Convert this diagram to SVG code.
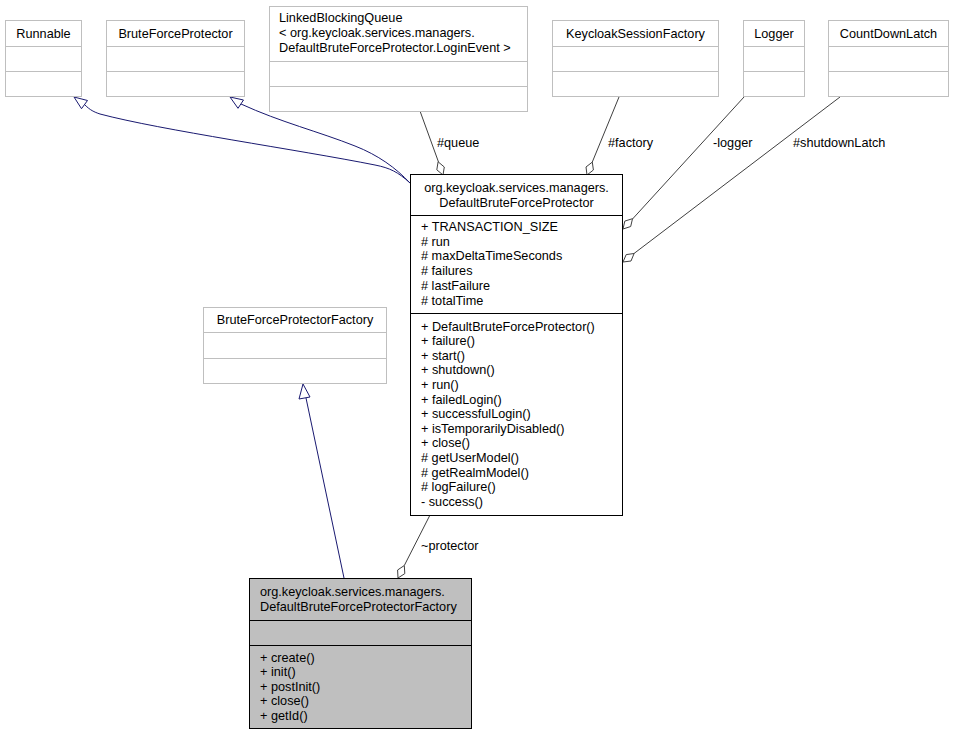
<svg xmlns="http://www.w3.org/2000/svg" width="954" height="735" viewBox="0 0 954 735">
<style>
text{font-family:"Liberation Sans",Arial,sans-serif;font-size:12.7px;fill:#000}
.c{text-anchor:middle}
.ext rect,.ext line{stroke:#bfbfbf;stroke-width:1;fill:#fff}
.main rect,.main line{stroke:#000;stroke-width:1;fill:#fff}
.cur rect,.cur line{stroke:#000;stroke-width:1;fill:#bfbfbf}
.inh{stroke:#191970;fill:none;stroke-width:1}
.inhh{stroke:#191970;fill:#fff;stroke-width:1}
.asc{stroke:#404040;fill:none;stroke-width:1}
.ascd{stroke:#404040;fill:#fff;stroke-width:1}
</style>
<rect width="954" height="735" fill="#fff"/>
<g id="connectors">
<path class="inh" d="M410,183 C398,172 390,168 375,165 C300,150 160,130 100,114 C94,112 90,110 85,105"/>
<polygon class="inhh" points="74,97 87.5,100.5 81.5,108.7"/>
<path class="inh" d="M410,183 C396,168 378,155 355,146 C320,132 280,122 241,104"/>
<polygon class="inhh" points="230,97 243.5,100 238,108.3"/>
<path class="inh" d="M344,578 L306,398"/>
<polygon class="inhh" points="303,384 310,397 299,399"/>
<path class="asc" d="M420,111 L438.5,162"/>
<polygon class="ascd" points="443,175 436.8,169.8 438.1,161.8 444.3,167"/>
<path class="asc" d="M619,97 L592.3,162"/>
<polygon class="ascd" points="587,175 586,167 592.3,162.1 593.4,170"/>
<path class="asc" d="M744,97 L632.5,219"/>
<polygon class="ascd" points="623,229 624.8,221.1 632.5,218.7 630.7,226.5"/>
<path class="asc" d="M840,97 L634,253.5"/>
<polygon class="ascd" points="623,262 626.2,254.6 634.1,253.5 631,261"/>
<path class="asc" d="M430,515 L404.3,565.5"/>
<polygon class="ascd" points="398,578 397.6,570 404.3,565.5 404.8,573.6"/>
<text x="437" y="147">#queue</text>
<text x="608" y="147">#factory</text>
<text x="713" y="147">-logger</text>
<text x="793" y="147">#shutdownLatch</text>
<text x="421" y="550">~protector</text>
</g>
<g id="Runnable" class="ext">
<rect x="5.5" y="20.5" width="76" height="76"/>
<line x1="5.5" y1="46.5" x2="81.5" y2="46.5"/>
<line x1="5.5" y1="71.5" x2="81.5" y2="71.5"/>
<text class="c" x="43.5" y="37.5">Runnable</text>
</g>
<g id="BruteForceProtector" class="ext">
<rect x="106.5" y="20.5" width="138" height="76"/>
<line x1="106.5" y1="46.5" x2="244.5" y2="46.5"/>
<line x1="106.5" y1="71.5" x2="244.5" y2="71.5"/>
<text class="c" x="175.5" y="37.5">BruteForceProtector</text>
</g>
<g id="LinkedBlockingQueue" class="ext">
<rect x="269.5" y="6.5" width="258" height="105"/>
<line x1="269.5" y1="61.5" x2="527.5" y2="61.5"/>
<line x1="269.5" y1="86.5" x2="527.5" y2="86.5"/>
<text x="279" y="22">LinkedBlockingQueue</text>
<text x="279" y="37">&lt; org.keycloak.services.managers.</text>
<text x="279" y="51.5">DefaultBruteForceProtector.LoginEvent &gt;</text>
</g>
<g id="KeycloakSessionFactory" class="ext">
<rect x="552.5" y="20.5" width="166" height="76"/>
<line x1="552.5" y1="46.5" x2="718.5" y2="46.5"/>
<line x1="552.5" y1="71.5" x2="718.5" y2="71.5"/>
<text class="c" x="635.5" y="37.5">KeycloakSessionFactory</text>
</g>
<g id="Logger" class="ext">
<rect x="743.5" y="20.5" width="61" height="76"/>
<line x1="743.5" y1="46.5" x2="804.5" y2="46.5"/>
<line x1="743.5" y1="71.5" x2="804.5" y2="71.5"/>
<text class="c" x="774" y="37.5">Logger</text>
</g>
<g id="CountDownLatch" class="ext">
<rect x="828.5" y="20.5" width="120" height="76"/>
<line x1="828.5" y1="46.5" x2="948.5" y2="46.5"/>
<line x1="828.5" y1="71.5" x2="948.5" y2="71.5"/>
<text class="c" x="888.5" y="37.5">CountDownLatch</text>
</g>
<g id="DefaultBruteForceProtector" class="main">
<rect x="410.5" y="174.5" width="212" height="341"/>
<line x1="410.5" y1="215.5" x2="622.5" y2="215.5"/>
<line x1="410.5" y1="313.5" x2="622.5" y2="313.5"/>
<text class="c" x="516.5" y="192">org.keycloak.services.managers.</text>
<text class="c" x="516.5" y="206.5">DefaultBruteForceProtector</text>
<text x="421" y="231">+ TRANSACTION_SIZE</text>
<text x="421" y="245.7"># run</text>
<text x="421" y="260.4"># maxDeltaTimeSeconds</text>
<text x="421" y="275.1"># failures</text>
<text x="421" y="289.8"># lastFailure</text>
<text x="421" y="304.5"># totalTime</text>
<text x="421" y="330.5">+ DefaultBruteForceProtector()</text>
<text x="421" y="345.1">+ failure()</text>
<text x="421" y="359.7">+ start()</text>
<text x="421" y="374.3">+ shutdown()</text>
<text x="421" y="388.9">+ run()</text>
<text x="421" y="403.5">+ failedLogin()</text>
<text x="421" y="418.1">+ successfulLogin()</text>
<text x="421" y="432.7">+ isTemporarilyDisabled()</text>
<text x="421" y="447.3">+ close()</text>
<text x="421" y="461.9"># getUserModel()</text>
<text x="421" y="476.5"># getRealmModel()</text>
<text x="421" y="491.1"># logFailure()</text>
<text x="421" y="505.7">- success()</text>
</g>
<g id="BruteForceProtectorFactory" class="ext">
<rect x="203.5" y="307.5" width="183" height="76"/>
<line x1="203.5" y1="332.5" x2="386.5" y2="332.5"/>
<line x1="203.5" y1="358.5" x2="386.5" y2="358.5"/>
<text class="c" x="295" y="324">BruteForceProtectorFactory</text>
</g>
<g id="DefaultBruteForceProtectorFactory" class="cur">
<rect x="249.5" y="578.5" width="222" height="150"/>
<line x1="249.5" y1="620.5" x2="471.5" y2="620.5"/>
<line x1="249.5" y1="645.5" x2="471.5" y2="645.5"/>
<text x="260" y="596">org.keycloak.services.managers.</text>
<text x="260" y="610.5">DefaultBruteForceProtectorFactory</text>
<text x="260" y="661.5">+ create()</text>
<text x="260" y="676">+ init()</text>
<text x="260" y="690.5">+ postInit()</text>
<text x="260" y="705">+ close()</text>
<text x="260" y="719.5">+ getId()</text>
</g>
</svg>
